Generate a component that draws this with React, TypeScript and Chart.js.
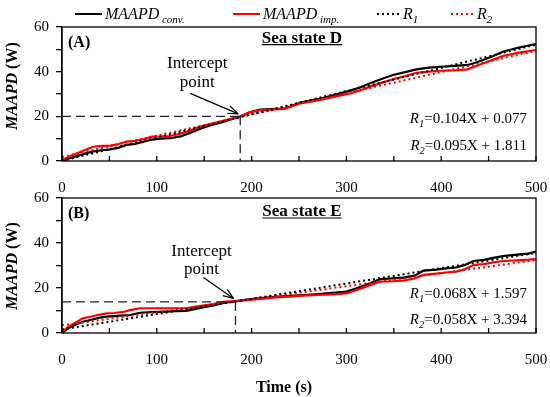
import React, { useEffect, useRef } from 'react';
import { Chart, registerables } from 'chart.js';
Chart.register(...registerables);

const FAM = '"Liberation Serif", "Times New Roman", serif';

// Panel A (Sea state D)
const timeA = [0, 8, 16, 25, 33, 42, 51, 60, 68, 77, 86, 95, 105, 114, 125, 135, 146, 157, 168, 178, 188, 198, 209, 219, 235, 251, 262, 272, 288, 304, 315, 325, 337, 349, 362, 374, 387, 399, 414, 428, 436, 444, 455, 465, 482, 500];
const convA = [0, 1.2, 2.3, 3.4, 4.3, 4.8, 5.2, 6.0, 7.2, 7.6, 8.6, 9.6, 10.0, 10.2, 11.0, 12.6, 14.5, 16.0, 17.3, 18.6, 19.9, 21.8, 23.0, 23.2, 23.5, 26.0, 27.0, 27.8, 29.6, 31.5, 33.0, 34.8, 36.7, 38.5, 39.8, 41.0, 41.8, 42.2, 42.6, 43.0, 44.0, 45.2, 47.0, 48.9, 50.8, 52.4];
const impA = [0.5, 2.0, 3.5, 5.0, 6.4, 6.8, 6.9, 7.6, 8.7, 9.0, 9.8, 10.9, 11.0, 11.2, 12.2, 13.6, 15.4, 16.6, 17.8, 18.9, 19.9, 21.8, 22.8, 23.0, 23.3, 25.8, 26.6, 27.4, 28.8, 30.3, 31.7, 33.3, 35.0, 36.6, 38.0, 39.5, 40.0, 40.4, 40.6, 41.0, 42.4, 43.7, 45.4, 47.0, 48.5, 49.7];

// Panel B (Sea state E)
const timeB = [0, 8, 16, 22, 30, 40, 47, 55, 65, 72, 82, 95, 110, 120, 131, 140, 150, 160, 170, 182, 195, 210, 225, 240, 255, 270, 285, 300, 310, 320, 335, 348, 360, 372, 381, 395, 405, 416, 425, 434, 445, 455, 465, 480, 492, 500];
const convB = [0, 2.5, 4.0, 5.0, 5.8, 6.8, 7.3, 7.5, 7.8, 8.0, 9.0, 9.3, 9.5, 9.7, 9.8, 10.6, 11.5, 12.3, 13.4, 14.0, 14.8, 15.5, 16.1, 16.5, 16.9, 17.3, 17.8, 18.4, 19.8, 21.3, 23.9, 24.3, 24.6, 25.5, 27.7, 28.2, 28.7, 29.2, 30.2, 32.0, 32.5, 33.4, 34.2, 34.8, 35.3, 36.2];
const impB = [0.5, 3.2, 5.0, 6.5, 7.2, 8.2, 8.7, 8.9, 9.4, 10.2, 11.0, 11.0, 11.0, 11.0, 11.0, 11.6, 12.3, 12.9, 13.8, 14.2, 14.6, 15.2, 15.8, 16.2, 16.6, 16.9, 17.2, 17.6, 19.0, 20.5, 22.8, 23.0, 23.3, 24.2, 25.8, 26.4, 26.9, 27.3, 28.3, 30.2, 30.6, 31.4, 32.0, 32.3, 32.6, 32.9];

// Regression lines (end points)
const regTime = [0, 500];
const r1A = [0.08, 52.08];
const r2A = [1.81, 49.31];
const r1B = [1.6, 35.6];
const r2B = [3.39, 32.39];

const interceptA = [188, 20];
const interceptB = [183, 13.8];
const eqA = ['0.104X + 0.077', '0.095X + 1.811'];
const eqB = ['0.068X + 1.597', '0.058X + 3.394'];

const f = (size: number, weight = 'normal', style = 'normal') => `${style} ${weight} ${size}px ${FAM}`;

type Part = { t: string; font: string; dy?: number };
function drawRich(ctx: CanvasRenderingContext2D, parts: Part[], x: number, y: number, align: 'left' | 'right' | 'center') {
  ctx.textAlign = 'left';
  ctx.textBaseline = 'alphabetic';
  const ws = parts.map(p => { ctx.font = p.font; return ctx.measureText(p.t).width; });
  const total = ws.reduce((a, b) => a + b, 0);
  let cx = align === 'right' ? x - total : align === 'center' ? x - total / 2 : x;
  const start = cx;
  parts.forEach((p, i) => { ctx.font = p.font; ctx.fillText(p.t, cx, y + (p.dy || 0)); cx += ws[i]; });
  return { start, width: total };
}

function seg(ctx: CanvasRenderingContext2D, x1: number, y1: number, x2: number, y2: number) {
  ctx.beginPath(); ctx.moveTo(x1, y1); ctx.lineTo(x2, y2); ctx.stroke();
}

function makeDeco(p: any) {
  return {
    id: 'deco' + p.label,
    afterDraw(chart: any) {
      const ctx: CanvasRenderingContext2D = chart.ctx;
      const { left, right, top, bottom } = chart.chartArea;
      const xs = chart.scales.x, ys = chart.scales.y;
      ctx.save();
      ctx.fillStyle = '#000';
      ctx.strokeStyle = '#000';
      ctx.lineWidth = 1.3;
      ctx.setLineDash([]);
      ctx.strokeRect(left, top, right - left, bottom - top);
      for (let v = 0; v <= 500; v += 50) {
        const px = xs.getPixelForValue(v);
        seg(ctx, px, bottom, px, bottom - 5);
      }
      // intercept dashed lines
      const ix = xs.getPixelForValue(p.intercept[0]);
      const iy = ys.getPixelForValue(p.intercept[1]);
      ctx.strokeStyle = '#222';
      ctx.lineWidth = 1.3;
      ctx.setLineDash([9, 5]);
      seg(ctx, left, iy, ix, iy);
      seg(ctx, ix, iy, ix, bottom);
      ctx.setLineDash([]);
      // arrow
      ctx.strokeStyle = '#000';
      ctx.lineWidth = 1.2;
      const x1 = ix + p.arrow[0], y1 = iy + p.arrow[1], x2 = ix + p.arrow[2], y2 = iy + p.arrow[3];
      seg(ctx, x1, y1, x2, y2);
      const a = Math.atan2(y2 - y1, x2 - x1);
      for (const s of [-1, 1]) seg(ctx, x2, y2, x2 - 11 * Math.cos(a + s * 0.35), y2 - 11 * Math.sin(a + s * 0.35));
      // intercept text
      drawRich(ctx, [{ t: 'Intercept', font: f(17) }], ix + p.txtDx, iy + p.txtDy[0], 'center');
      drawRich(ctx, [{ t: 'point', font: f(17) }], ix + p.txtDx, iy + p.txtDy[1], 'center');
      // panel label
      drawRich(ctx, [{ t: p.label, font: f(16, 'bold') }], left + 6, top + 20, 'left');
      // sea state title, underlined
      const r = drawRich(ctx, [{ t: p.title, font: f(17, 'bold') }], 302, top + p.titleBase, 'center');
      ctx.lineWidth = 1.2;
      seg(ctx, r.start, top + p.titleBase + 2, r.start + r.width, top + p.titleBase + 2);
      // equations
      drawRich(ctx, [{ t: 'R', font: f(15, 'normal', 'italic') }, { t: '1', font: f(10.5, 'normal', 'italic'), dy: 4 }, { t: '=' + p.eq[0], font: f(15) }], right - 9, bottom + p.eqBase[0], 'right');
      drawRich(ctx, [{ t: 'R', font: f(15, 'normal', 'italic') }, { t: '2', font: f(10.5, 'normal', 'italic'), dy: 4 }, { t: '=' + p.eq[1], font: f(15) }], right - 9, bottom + p.eqBase[1], 'right');
      // y title
      ctx.save();
      ctx.translate(13, top + p.yTitleC);
      ctx.rotate(-Math.PI / 2);
      ctx.textBaseline = 'middle';
      ctx.font = f(16, 'bold', 'italic');
      const w1 = ctx.measureText('MAAPD').width;
      ctx.font = f(16, 'bold');
      const w2 = ctx.measureText(' (W)').width;
      ctx.textAlign = 'left';
      ctx.font = f(16, 'bold', 'italic');
      ctx.fillText('MAAPD', -(w1 + w2) / 2, 0);
      ctx.font = f(16, 'bold');
      ctx.fillText(' (W)', -(w1 + w2) / 2 + w1, 0);
      ctx.restore();
      // legend
      if (p.legend) {
        const ly = 14;
        const items = [
          { x: 75, color: '#000', dash: [] as number[], parts: [{ t: 'MAAPD', font: f(16, 'normal', 'italic') }, { t: ' conv.', font: f(11, 'normal', 'italic'), dy: 4 }] },
          { x: 233, color: '#ff0000', dash: [] as number[], parts: [{ t: 'MAAPD', font: f(16, 'normal', 'italic') }, { t: ' imp.', font: f(11, 'normal', 'italic'), dy: 4 }] },
          { x: 377, color: '#000', dash: [2, 3], parts: [{ t: 'R', font: f(16, 'normal', 'italic') }, { t: '1', font: f(11, 'normal', 'italic'), dy: 4 }] },
          { x: 451, color: '#ff0000', dash: [2, 3], parts: [{ t: 'R', font: f(16, 'normal', 'italic') }, { t: '2', font: f(11, 'normal', 'italic'), dy: 4 }] },
        ];
        for (const it of items) {
          ctx.strokeStyle = it.color;
          ctx.lineWidth = 2;
          ctx.setLineDash(it.dash);
          seg(ctx, it.x, ly, it.x + (it.dash.length ? 22 : 27), ly);
          ctx.setLineDash([]);
          ctx.fillStyle = '#000';
          drawRich(ctx, it.parts, it.x + (it.dash.length ? 26 : 30), 19, 'left');
        }
      }
      if (p.xTitle) {
        drawRich(ctx, [{ t: 'Time (s)', font: f(16, 'bold') }], 284, 216.5, 'center');
      }
      ctx.restore();
    },
  };
}

const pairs = (xs: number[], ys: number[]) => xs.map((x, i) => ({ x, y: ys[i] }));

function makeConfig(p: any): any {
  return {
    type: 'line',
    data: {
      datasets: [
        { data: pairs(regTime, p.r1), borderColor: '#000', borderDash: [2, 3], borderWidth: 2, pointRadius: 0 },
        { data: pairs(regTime, p.r2), borderColor: '#ff0000', borderDash: [2, 3], borderWidth: 2, pointRadius: 0 },
        { data: pairs(p.time, p.imp), borderColor: '#ff0000', borderWidth: 2.2, pointRadius: 0 },
        { data: pairs(p.time, p.conv), borderColor: '#000', borderWidth: 2.2, pointRadius: 0 },
      ],
    },
    options: {
      responsive: false,
      animation: false,
      events: [],
      layout: { padding: { top: p.padTop, right: 14, left: 0, bottom: 0 } },
      plugins: { legend: { display: false }, tooltip: { enabled: false } },
      elements: { line: { tension: 0 } },
      scales: {
        x: {
          type: 'linear', min: 0, max: 500,
          afterFit: (s: any) => { s.height = p.xAxisH; s.paddingLeft = 0; s.paddingRight = 0; },
          grid: { display: false }, border: { display: false },
          ticks: { stepSize: 100, padding: 10, color: '#000', font: { family: FAM, size: 15 }, maxRotation: 0 },
        },
        y: {
          min: 0, max: 60,
          afterFit: (s: any) => { s.width = 62; s.paddingTop = 0; s.paddingBottom = 0; },
          grid: { drawOnChartArea: false, drawTicks: true, tickLength: 6, color: '#000', lineWidth: 1.3 },
          border: { display: true, color: '#000', width: 1.3 },
          ticks: { stepSize: 10, padding: 7, color: '#000', font: { family: FAM, size: 15 }, callback: (v: number) => (v % 20 === 0 ? String(v) : '') },
        },
      },
    },
    plugins: [makeDeco(p)],
  };
}

const panelA = {
  time: timeA, conv: convA, imp: impA, r1: r1A, r2: r2A, padTop: 27, xAxisH: 39,
  label: '(A)', title: 'Sea state D', titleBase: 15.7, intercept: interceptA, eq: eqA, eqBase: [-38, -11],
  yTitleC: 59, legend: true, xTitle: false, arrow: [-50, -23, -2, -2.5], txtDx: -43, txtDy: [-48.8, -29.6],
};
const panelB = {
  time: timeB, conv: convB, imp: impB, r1: r1B, r2: r2B, padTop: 23, xAxisH: 64,
  label: '(B)', title: 'Sea state E', titleBase: 18, intercept: interceptB, eq: eqB, eqBase: [-35, -9],
  yTitleC: 68, legend: false, xTitle: true, arrow: [-32, -24.5, -2, -3.5], txtDx: -34, txtDy: [-45.5, -27.5],
};

export default function App() {
  const refA = useRef<HTMLCanvasElement>(null);
  const refB = useRef<HTMLCanvasElement>(null);
  useEffect(() => {
    const a = new Chart(refA.current as HTMLCanvasElement, makeConfig(panelA));
    const b = new Chart(refB.current as HTMLCanvasElement, makeConfig(panelB));
    return () => { a.destroy(); b.destroy(); };
  }, []);
  return (
    <div style={{ position: 'absolute', left: 0, top: 0, width: 550, height: 397, background: '#fff' }}>
      <canvas ref={refA} width={550} height={200} style={{ position: 'absolute', left: 0, top: 0 }} />
      <canvas ref={refB} width={550} height={222} style={{ position: 'absolute', left: 0, top: 175 }} />
    </div>
  );
}
